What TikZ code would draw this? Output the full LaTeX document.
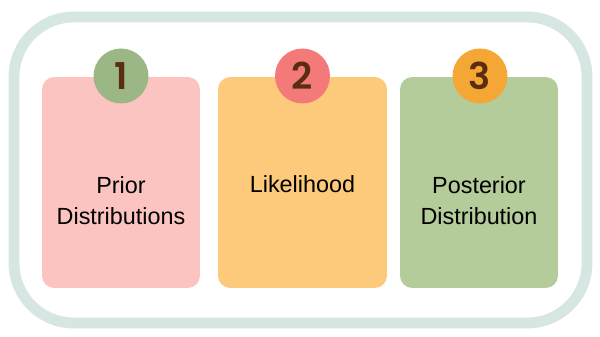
\documentclass[tikz,border=0pt]{standalone}
\usepackage{fontspec}
\setmainfont{Liberation Sans}
\newfontfamily\numfont{Poppins SemiBold}

\definecolor{frameteal}{RGB}{214,230,226}
\definecolor{priorpink}{RGB}{252,196,193}
\definecolor{likeorange}{RGB}{253,202,124}
\definecolor{postgreen}{RGB}{179,204,153}
\definecolor{badgegreen}{RGB}{156,183,134}
\definecolor{badgered}{RGB}{244,122,122}
\definecolor{badgeorange}{RGB}{245,167,54}
\definecolor{numbrown}{RGB}{90,44,16}

\begin{document}
\begin{tikzpicture}[x=0.02cm, y=-0.02cm, font=\fontsize{13.3}{18}\selectfont,
    card/.style={draw=none, rounded corners=7pt, minimum height=4.22cm, inner sep=0pt},
    badge/.style={circle, minimum size=1.1cm, inner sep=0pt,
      font=\numfont\fontsize{21}{21}\selectfont, text=numbrown},
    cardtext/.style={align=center, anchor=base}]

    \useasboundingbox (0,0) rectangle (600,337);

    % --- Outer frame ---
    \draw[line width=6.2pt, frameteal, rounded corners=34pt] (14,17) rectangle (587,323);

    % --- The three cards ---
    \node[card, fill=priorpink, minimum width=3.16cm] (prior) at (121,182.5) {};
    \node[card, fill=likeorange, minimum width=3.38cm] (likelihood) at (302.5,182.5) {};
    \node[card, fill=postgreen, minimum width=3.16cm] (posterior) at (479,182.5) {};

    % Numbered badges on the top edge
    \node[badge, fill=badgegreen] (one) at (121,76) {1};
    \node[badge, fill=badgered] (two) at (302.5,76) {2};
    \node[badge, fill=badgeorange] (three) at (480,76) {3};

    % Card texts (base = last line)
    \node[cardtext] (priortext) at (121,225) {Prior\\Distributions};
    \node[cardtext] (liketext) at (302.5,193) {Likelihood};
    \node[cardtext] (posttext) at (479,225) {Posterior\\Distribution};

\end{tikzpicture}
\end{document}
